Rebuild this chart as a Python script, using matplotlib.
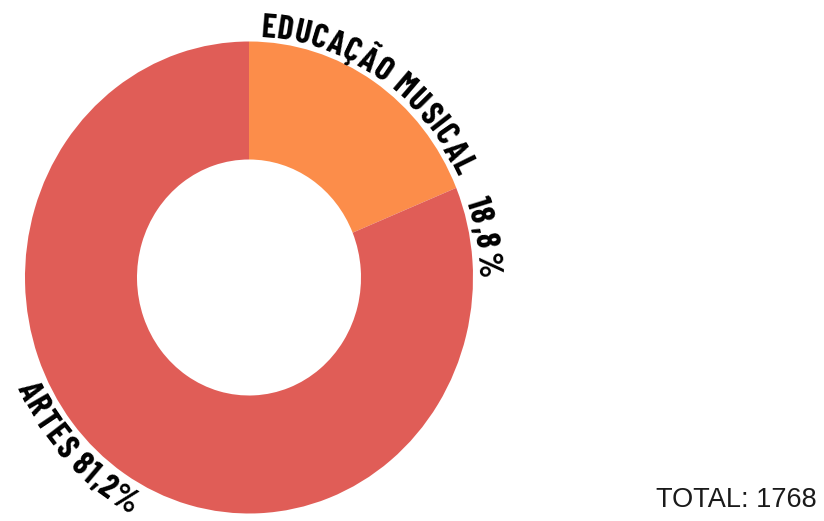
import numpy as np
import matplotlib
matplotlib.use('Agg')
from matplotlib import pyplot as plt
from matplotlib.font_manager import FontProperties

# share of students per course
labels = ['EDUCAÇÃO MUSICAL', 'ARTES']
shares = [18.8, 81.2]
colors = ['#FC8D4A', '#E05D57']
total = 1768

LABEL_FONT = FontProperties(family=['Barlow Condensed', 'Liberation Sans', 'DejaVu Sans'],
                            weight='bold', size=24)
CAP = 23.0  # cap height in pixels


def pct_text(v):
    return ('%.1f%%' % v).replace('.', ',')


def arc_text(ax, fig, text, a0, a1, r, clockwise):
    """Write text letter by letter along an arc from angle a0 to a1 (degrees)."""
    rend = fig.canvas.get_renderer()
    cum = [0.0]
    for i in range(1, len(text) + 1):
        w, h, d = rend.get_text_width_height_descent(text[:i], LABEL_FONT, ismath=False)
        cum.append(w)
    cum = np.array(cum)
    centers = (cum[:-1] + cum[1:]) / 2
    frac = (centers - centers[0]) / (centers[-1] - centers[0])
    inv = ax.transData.inverted()
    for ch, f in zip(text, frac):
        if ch == ' ':
            continue
        th = np.radians(a0 + (a1 - a0) * f)
        cx, cy = ax.transData.transform((r * np.cos(th), r * np.sin(th)))
        # baseline sits half a cap height below the letter centre
        sign = -1 if clockwise else 1
        bx = cx + sign * CAP / 2 * np.cos(th)
        by = cy + sign * CAP / 2 * np.sin(th)
        x, y = inv.transform((bx, by))
        rot = np.degrees(th) - 90 if clockwise else np.degrees(th) + 90
        ax.text(x, y, ch, fontproperties=LABEL_FONT, rotation=rot,
                rotation_mode='anchor', ha='center', va='baseline', color='black')


fig = plt.figure(figsize=(8.24, 5.21), dpi=100)
ax = fig.add_axes([25 / 824, 7.5 / 521, 448 / 824, 472 / 521])
ax.pie(shares, colors=colors, startangle=90, counterclock=False, radius=1.0,
       wedgeprops=dict(width=0.5, edgecolor='none'))
ax.set_aspect('auto')
ax.set_xlim(-1, 1)
ax.set_ylim(-1, 1)
ax.axis('off')

arc_text(ax, fig, labels[0], 85.4, 26.3, 1.07, True)
arc_text(ax, fig, pct_text(shares[0]), 17.4, 2.9, 1.07, True)
arc_text(ax, fig, labels[1] + ' ' + pct_text(shares[1]), 206, 239.5, 1.085, False)

fig.text(817 / 824, 1 - 507 / 521, 'TOTAL: %d' % total, ha='right', va='baseline',
         fontsize=19.5, family='Liberation Sans', color='#1a1a1a')

fig.savefig('out.png', dpi=100, facecolor='white')
